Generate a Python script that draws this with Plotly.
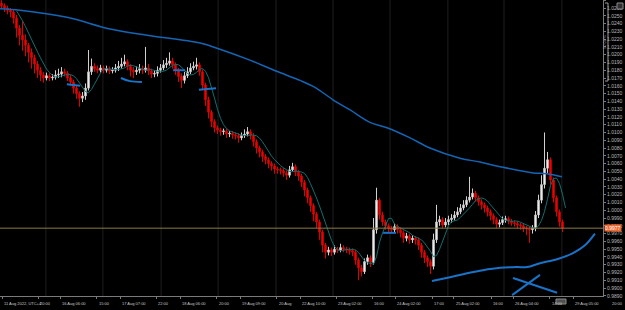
import plotly.graph_objects as go
import pandas as pd

# ---------------- data ----------------
first_open = 1.0266
closes = [
    1.0263, 1.0260, 1.0257, 1.0255, 1.0247, 1.0234, 1.0225, 1.0219, 1.0212, 1.0203,
    1.0196, 1.0188, 1.0180, 1.0174, 1.0170, 1.0173, 1.0170, 1.0171, 1.0174, 1.0175,
    1.0178, 1.0176, 1.0170, 1.0165, 1.0157, 1.0150, 1.0144, 1.0147, 1.0157, 1.0178,
    1.0185, 1.0182, 1.0180, 1.0183, 1.0180, 1.0182, 1.0179, 1.0180, 1.0183, 1.0185,
    1.0188, 1.0191, 1.0185, 1.0180, 1.0178, 1.0180, 1.0182, 1.0180, 1.0183, 1.0179,
    1.0175, 1.0176, 1.0180, 1.0183, 1.0187, 1.0189, 1.0192, 1.0187, 1.0180, 1.0172,
    1.0167, 1.0173, 1.0178, 1.0183, 1.0185, 1.0187, 1.0178, 1.0161, 1.0142, 1.0126,
    1.0114, 1.0106, 1.0103, 1.0101, 1.0102, 1.0098, 1.0099, 1.0097, 1.0096, 1.0093,
    1.0096, 1.0098, 1.0101, 1.0096, 1.0088, 1.0080, 1.0075, 1.0069, 1.0065, 1.0060,
    1.0057, 1.0053, 1.0052, 1.0051, 1.0048, 1.0045, 1.0052, 1.0056, 1.0049, 1.0044,
    1.0036, 1.0026, 1.0016, 1.0006, 0.9995, 0.9985, 0.9972, 0.9955, 0.9946, 0.9949,
    0.9946, 0.9950, 0.9949, 0.9952, 0.9950, 0.9949, 0.9948, 0.9946, 0.9936, 0.9926,
    0.9921, 0.9934, 0.9939, 0.9933, 0.9975, 1.0013, 0.9994, 0.9985, 0.9980, 0.9977,
    0.9975, 0.9979, 0.9975, 0.9971, 0.9964, 0.9967, 0.9962, 0.9964, 0.9962, 0.9955,
    0.9946, 0.9939, 0.9934, 0.9928, 0.9962, 0.9985, 0.9988, 0.9981, 0.9985, 0.9988,
    0.9990, 0.9994, 0.9998, 1.0003, 1.0007, 1.0013, 1.0017, 1.0022, 1.0016, 1.0011,
    1.0007, 1.0003, 0.9998, 0.9993, 0.9988, 0.9982, 0.9984, 0.9988, 0.9989, 0.9986,
    0.9984, 0.9983, 0.9981, 0.9980, 0.9977, 0.9976, 0.9975, 0.9977, 0.9994, 1.0013,
    1.0033, 1.0054, 1.0065, 1.0039, 1.0016, 0.9998, 0.9985, 0.9977,
]
highs = [
    1.0270, 1.0266, 1.0263, 1.0260, 1.0258, 1.0251, 1.0238, 1.0243, 1.0226, 1.0215,
    1.0208, 1.0200, 1.0192, 1.0184, 1.0178, 1.0177, 1.0176, 1.0175, 1.0180, 1.0182,
    1.0184, 1.0182, 1.0179, 1.0174, 1.0168, 1.0160, 1.0153, 1.0152, 1.0163, 1.0206,
    1.0195, 1.0189, 1.0186, 1.0187, 1.0186, 1.0186, 1.0185, 1.0184, 1.0188, 1.0192,
    1.0196, 1.0200, 1.0194, 1.0188, 1.0184, 1.0185, 1.0188, 1.0186, 1.0210, 1.0188,
    1.0182, 1.0180, 1.0185, 1.0188, 1.0193, 1.0196, 1.0203, 1.0196, 1.0190, 1.0183,
    1.0176, 1.0178, 1.0184, 1.0189, 1.0191, 1.0196, 1.0190, 1.0181, 1.0164, 1.0146,
    1.0129, 1.0117, 1.0109, 1.0106, 1.0105, 1.0105, 1.0102, 1.0102, 1.0100, 1.0099,
    1.0100, 1.0104, 1.0107, 1.0104, 1.0099, 1.0091, 1.0083, 1.0078, 1.0072, 1.0068,
    1.0063, 1.0060, 1.0056, 1.0055, 1.0054, 1.0051, 1.0057, 1.0061, 1.0059, 1.0052,
    1.0047, 1.0039, 1.0029, 1.0019, 1.0009, 0.9998, 0.9988, 0.9975, 0.9958, 0.9953,
    0.9952, 0.9955, 0.9953, 0.9957, 0.9955, 0.9953, 0.9952, 0.9951, 0.9949, 0.9939,
    0.9930, 0.9938, 0.9943, 0.9942, 0.9990, 1.0029, 1.0016, 0.9998, 0.9988, 0.9983,
    0.9980, 0.9983, 0.9982, 0.9978, 0.9974, 0.9971, 0.9970, 0.9968, 0.9967, 0.9965,
    0.9958, 0.9949, 0.9942, 0.9937, 0.9970, 1.0007, 0.9993, 0.9991, 0.9990, 0.9993,
    0.9995, 0.9999, 1.0004, 1.0008, 1.0013, 1.0018, 1.0043, 1.0028, 1.0025, 1.0019,
    1.0014, 1.0010, 1.0006, 1.0001, 0.9996, 0.9991, 0.9988, 0.9992, 0.9993, 0.9992,
    0.9989, 0.9987, 0.9986, 0.9984, 0.9983, 0.9980, 0.9979, 0.9981, 0.9999, 1.0020,
    1.0045, 1.0100, 1.0075, 1.0068, 1.0042, 1.0019, 1.0001, 0.9988,
]
lows = [
    1.0259, 1.0255, 1.0252, 1.0248, 1.0240, 1.0222, 1.0212, 1.0205, 1.0198, 1.0190,
    1.0182, 1.0176, 1.0170, 1.0166, 1.0164, 1.0167, 1.0166, 1.0167, 1.0168, 1.0170,
    1.0171, 1.0172, 1.0166, 1.0160, 1.0150, 1.0143, 1.0133, 1.0139, 1.0142, 1.0154,
    1.0174, 1.0178, 1.0176, 1.0177, 1.0176, 1.0177, 1.0175, 1.0176, 1.0177, 1.0179,
    1.0182, 1.0185, 1.0180, 1.0172, 1.0170, 1.0174, 1.0176, 1.0175, 1.0177, 1.0174,
    1.0170, 1.0171, 1.0172, 1.0177, 1.0180, 1.0183, 1.0186, 1.0182, 1.0174, 1.0165,
    1.0157, 1.0163, 1.0170, 1.0175, 1.0180, 1.0181, 1.0173, 1.0155, 1.0134, 1.0118,
    1.0107, 1.0100, 1.0098, 1.0096, 1.0097, 1.0093, 1.0094, 1.0092, 1.0091, 1.0087,
    1.0090, 1.0093, 1.0095, 1.0091, 1.0082, 1.0073, 1.0068, 1.0062, 1.0059, 1.0054,
    1.0051, 1.0047, 1.0047, 1.0046, 1.0043, 1.0039, 1.0042, 1.0050, 1.0044, 1.0038,
    1.0030, 1.0018, 1.0009, 0.9998, 0.9986, 0.9977, 0.9962, 0.9946, 0.9938, 0.9942,
    0.9941, 0.9943, 0.9945, 0.9946, 0.9946, 0.9945, 0.9943, 0.9941, 0.9930, 0.9910,
    0.9915, 0.9918, 0.9930, 0.9927, 0.9930, 0.9970, 0.9988, 0.9980, 0.9975, 0.9972,
    0.9970, 0.9971, 0.9970, 0.9965, 0.9958, 0.9960, 0.9957, 0.9958, 0.9956, 0.9949,
    0.9939, 0.9932, 0.9927, 0.9918, 0.9924, 0.9958, 0.9980, 0.9977, 0.9978, 0.9981,
    0.9984, 0.9987, 0.9991, 0.9995, 1.0000, 1.0004, 1.0010, 1.0014, 1.0011, 1.0006,
    1.0001, 0.9997, 0.9992, 0.9987, 0.9982, 0.9977, 0.9978, 0.9981, 0.9984, 0.9982,
    0.9980, 0.9979, 0.9976, 0.9975, 0.9972, 0.9968, 0.9958, 0.9970, 0.9973, 0.9990,
    1.0009, 1.0028, 1.0048, 1.0033, 1.0010, 0.9992, 0.9979, 0.9972,
]
opens = [first_open] + closes[:-1]
bars = list(range(len(closes)))

# slow moving average
slow_ma_x = [-0.5, 6.2, 21.8, 36.2, 48.5, 66.2, 72.8, 82.8, 91.5, 99.5, 104.5, 110.5,
             116.2, 122.8, 128.5, 136.2, 142.8, 152.8, 159.5, 166.2, 177.2, 181.8, 186.8]
slow_ma_y = [1.0259, 1.0257, 1.0248, 1.0233, 1.0225, 1.0215, 1.0207, 1.0193, 1.0179, 1.0167,
             1.0158, 1.0142, 1.0129, 1.0113, 1.0106, 1.0093, 1.0080, 1.0067, 1.0062, 1.0056,
             1.0048, 1.0047, 1.0043]

# hand drawn strokes (bar index, price)
drawings = [
    ([21.8, 26.2], [1.0162, 1.0160]),
    ([39.8, 42.8, 46.8], [1.0170, 1.0166, 1.0165]),
    ([57.2, 61.2], [1.0180, 1.0180]),
    ([65.8, 71.5], [1.0155, 1.0157]),
    ([127.2, 131.5], [0.9971, 0.9971]),
    ([143.5, 149.5, 155.2, 160.5, 166.2, 171.8, 175.2, 179.5, 185.2, 190.5, 194.5, 197.8],
     [0.9909, 0.9914, 0.9919, 0.9923, 0.9926, 0.9927, 0.9927, 0.9932, 0.9937, 0.9945, 0.9955, 0.9970]),
    ([170.5, 185.2], [0.9913, 0.9894]),
    ([170.2, 179.5], [0.9891, 0.9917]),
]

grid_bars = [14.8, 33.8, 53.2, 72.2, 91.5, 110.5, 129.5, 148.8, 167.5, 186.8]

time_labels = ["11 Aug 2022, UTC+4", "20:00", "16 Aug 06:00", "15:00", "17 Aug 07:00", "22:00",
               "18 Aug 06:00", "20:00", "19 Aug 09:00", "20 Aug", "22 Aug 10:00", "23 Aug 02:00",
               "16:00", "24 Aug 02:00", "17:00", "25 Aug 02:00", "16:00", "26 Aug 04:00",
               "14:00", "29 Aug 05:00", "20:00"]
time_label_bars = [0.2, 12.2, 19.5, 31.8, 39.5, 51.5, 59.5, 71.8, 79.5, 91.8, 99.5, 111.5,
                   123.5, 131.2, 143.5, 150.8, 163.2, 170.5, 182.8, 190.5, 202.8]

X_RANGE = [-0.5, 200.5]
Y_RANGE = [0.98898, 1.02703]

# fast moving average (indicator computed from closes, shifted one bar)
fast_ma = pd.Series(closes).rolling(5).mean()
fast_x = [b + 1 for b in bars]

fig = go.Figure()

fig.add_trace(go.Scatter(x=slow_ma_x, y=slow_ma_y, mode="lines",
                         line=dict(color="#1565b5", width=1.5, shape="spline"),
                         hoverinfo="skip"))

fig.add_trace(go.Candlestick(
    x=bars, open=opens, high=highs, low=lows, close=closes,
    increasing=dict(line=dict(color="#d0d0d0", width=1), fillcolor="#ffffff"),
    decreasing=dict(line=dict(color="#e00000", width=1), fillcolor="#ff0000"),
    whiskerwidth=0,
))

fig.add_trace(go.Scatter(x=fast_x, y=fast_ma, mode="lines",
                         line=dict(color="#116e70", width=1), hoverinfo="skip"))

for dx, dy in drawings:
    fig.add_trace(go.Scatter(x=dx, y=dy, mode="lines",
                             line=dict(color="#1a73c8", width=2, shape="spline"),
                             hoverinfo="skip"))

shapes = []
for g in grid_bars:
    shapes.append(dict(type="line", xref="x", yref="paper", x0=g, x1=g, y0=0, y1=1,
                       line=dict(color="#1e1e1e", width=1), layer="below"))
last = closes[-1]
shapes.append(dict(type="line", xref="paper", yref="y", x0=0, x1=1, y0=last, y1=last,
                   line=dict(color="#8a7d45", width=1)))
# measuring bracket on right scale
pw = 603.0
ph = 296.0
shapes.append(dict(type="path", xref="paper", yref="paper",
                   path=f"M {605/pw} {1-3/ph} L {608/pw} {1-3/ph} L {608/pw} {1-81/ph} L {605/pw} {1-81/ph}",
                   line=dict(color="#9a9a9a", width=1)))
shapes.append(dict(type="rect", xref="paper", yref="paper",
                   x0=617/pw, x1=623/pw, y0=1-9/ph, y1=1-3/ph,
                   line=dict(color="#8a8a8a", width=1), fillcolor="#303030"))
shapes.append(dict(type="rect", xref="paper", yref="paper",
                   x0=556/pw, x1=566/pw, y0=-8/ph, y1=-3/ph,
                   line=dict(color="#8a8a8a", width=1), fillcolor="#505050"))

annotations = []
span = X_RANGE[1] - X_RANGE[0]
for txt, b in zip(time_labels, time_label_bars):
    annotations.append(dict(text=txt, xref="paper", yref="paper",
                            x=(b - X_RANGE[0]) / span, y=0, xanchor="left", yanchor="top",
                            yshift=-3, showarrow=False,
                            font=dict(size=4, color="#c8c8c8", family="Liberation Sans")))
annotations.append(dict(text=f"{last:.4f}", xref="paper", yref="y", x=1, y=last,
                        xanchor="left", yanchor="middle", xshift=1, showarrow=False,
                        bgcolor="#f2672e", borderpad=0,
                        font=dict(size=5, color="#ffffff", family="Liberation Sans")))
annotations.append(dict(text="50.00%", xref="paper", yref="paper", x=604/pw, y=1-42/ph,
                        textangle=-90, showarrow=False, xanchor="center", yanchor="middle",
                        font=dict(size=4, color="#9a9a9a", family="Liberation Sans")))

fig.update_layout(
    width=625, height=310,
    margin=dict(l=0, r=22, t=0, b=14),
    paper_bgcolor="#000000", plot_bgcolor="#000000",
    showlegend=False,
    shapes=shapes, annotations=annotations,
    xaxis=dict(range=X_RANGE, showgrid=False, zeroline=False, rangeslider=dict(visible=False),
               showline=True, linecolor="#7a7a7a", linewidth=1,
               tickvals=time_label_bars, ticks="outside", ticklen=2, tickcolor="#7a7a7a",
               showticklabels=False),
    yaxis=dict(range=Y_RANGE, side="right", showgrid=False, zeroline=False,
               dtick=0.001, tick0=0, tickformat=".4f",
               ticks="outside", ticklen=2, tickcolor="#7a7a7a",
               showline=True, linecolor="#7a7a7a", linewidth=1,
               tickfont=dict(size=5, color="#b8b8b8", family="Liberation Sans")),
)

fig.write_html("out.html")
